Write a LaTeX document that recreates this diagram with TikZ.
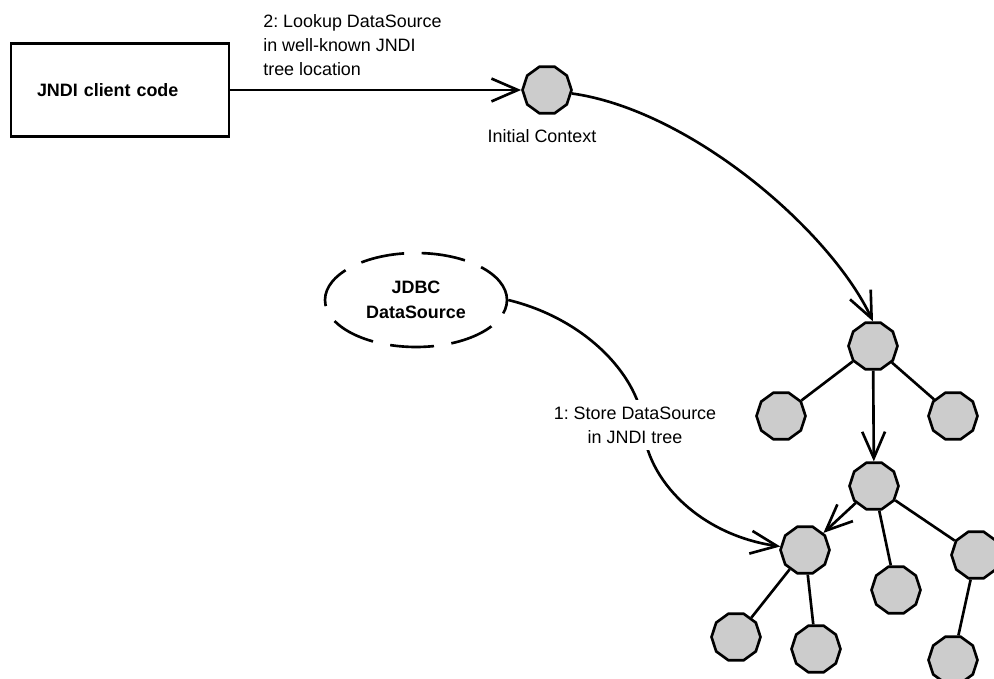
\documentclass[tikz,border=0pt]{standalone}
\usepackage{fontspec}
\setmainfont{Liberation Sans}
\usepackage{tikz}
\usetikzlibrary{arrows.meta,shapes.geometric}
\definecolor{nodegray}{HTML}{CCCCCC}
\frenchspacing

\begin{document}
\begin{tikzpicture}[
  x=0.02cm, y=-0.02cm,
  >={Straight Barb[length=15pt,width=13pt]},
  line width=1.5pt,
  font=\fontsize{10.2}{13.6}\selectfont,
  ctxnode/.style={regular polygon,regular polygon sides=10,draw=black,fill=nodegray,
    minimum size=0.98cm,inner sep=0pt},
  clientbox/.style={rectangle,draw=black,minimum width=4.36cm,minimum height=1.86cm,
    inner xsep=0.52cm,text width=3.32cm,align=left,font=\fontsize{10.2}{13.6}\selectfont\bfseries},
  dsnode/.style={ellipse,draw=black,dash pattern=on 25pt off 10pt,minimum width=3.64cm,
    minimum height=1.88cm,inner sep=0pt,align=center,font=\fontsize{10.2}{14.2}\selectfont\bfseries},
  msg/.style={inner sep=0pt,align=left},
  link/.style={->}
]
\useasboundingbox (0,0) rectangle (994,679);
% Client and data source
\node[clientbox] (client) at (120,90) {JNDI client code};
\node[dsnode] (ds) at (416,300) {JDBC\\DataSource};
% JNDI tree
\foreach \n/\x/\y in {0/547/90,1/873/346,2/781/416,3/953/416,4/874/486,5/805/550,
  6/896/590,7/976/555,8/736/637,9/816/649,10/953/660}{
  \node[ctxnode] (N\n) at (\x,\y) {};
}
\foreach \a/\b in {1/2,1/3,4/6,4/7,5/8,5/9,7/10}{
  \draw (N\a) -- (N\b);
}
\draw[link] (N1) -- (N4);
\draw[link] (N4) -- (N5);
% Lookup and store
\draw[link] (client) -- (N0);
\draw[link] (N0) .. controls (690,110) and (830,230) .. (N1.north);
\draw[link] (ds.east) .. controls (590,320) and (640,380) .. (643,425)
  .. controls (646,480) and (700,535) .. (N5);
% labels
\node[msg,anchor=north west] (lookuplbl) at (262,13)
  {2: Lookup DataSource\\in well-known JNDI\\tree location};
\node[anchor=base] (iclbl) at (542,143) {Initial Context};
\node[fill=white,inner sep=4pt,align=center] (storelbl) at (635,425)
  {1: Store DataSource\\in JNDI tree};
\end{tikzpicture}
\end{document}
